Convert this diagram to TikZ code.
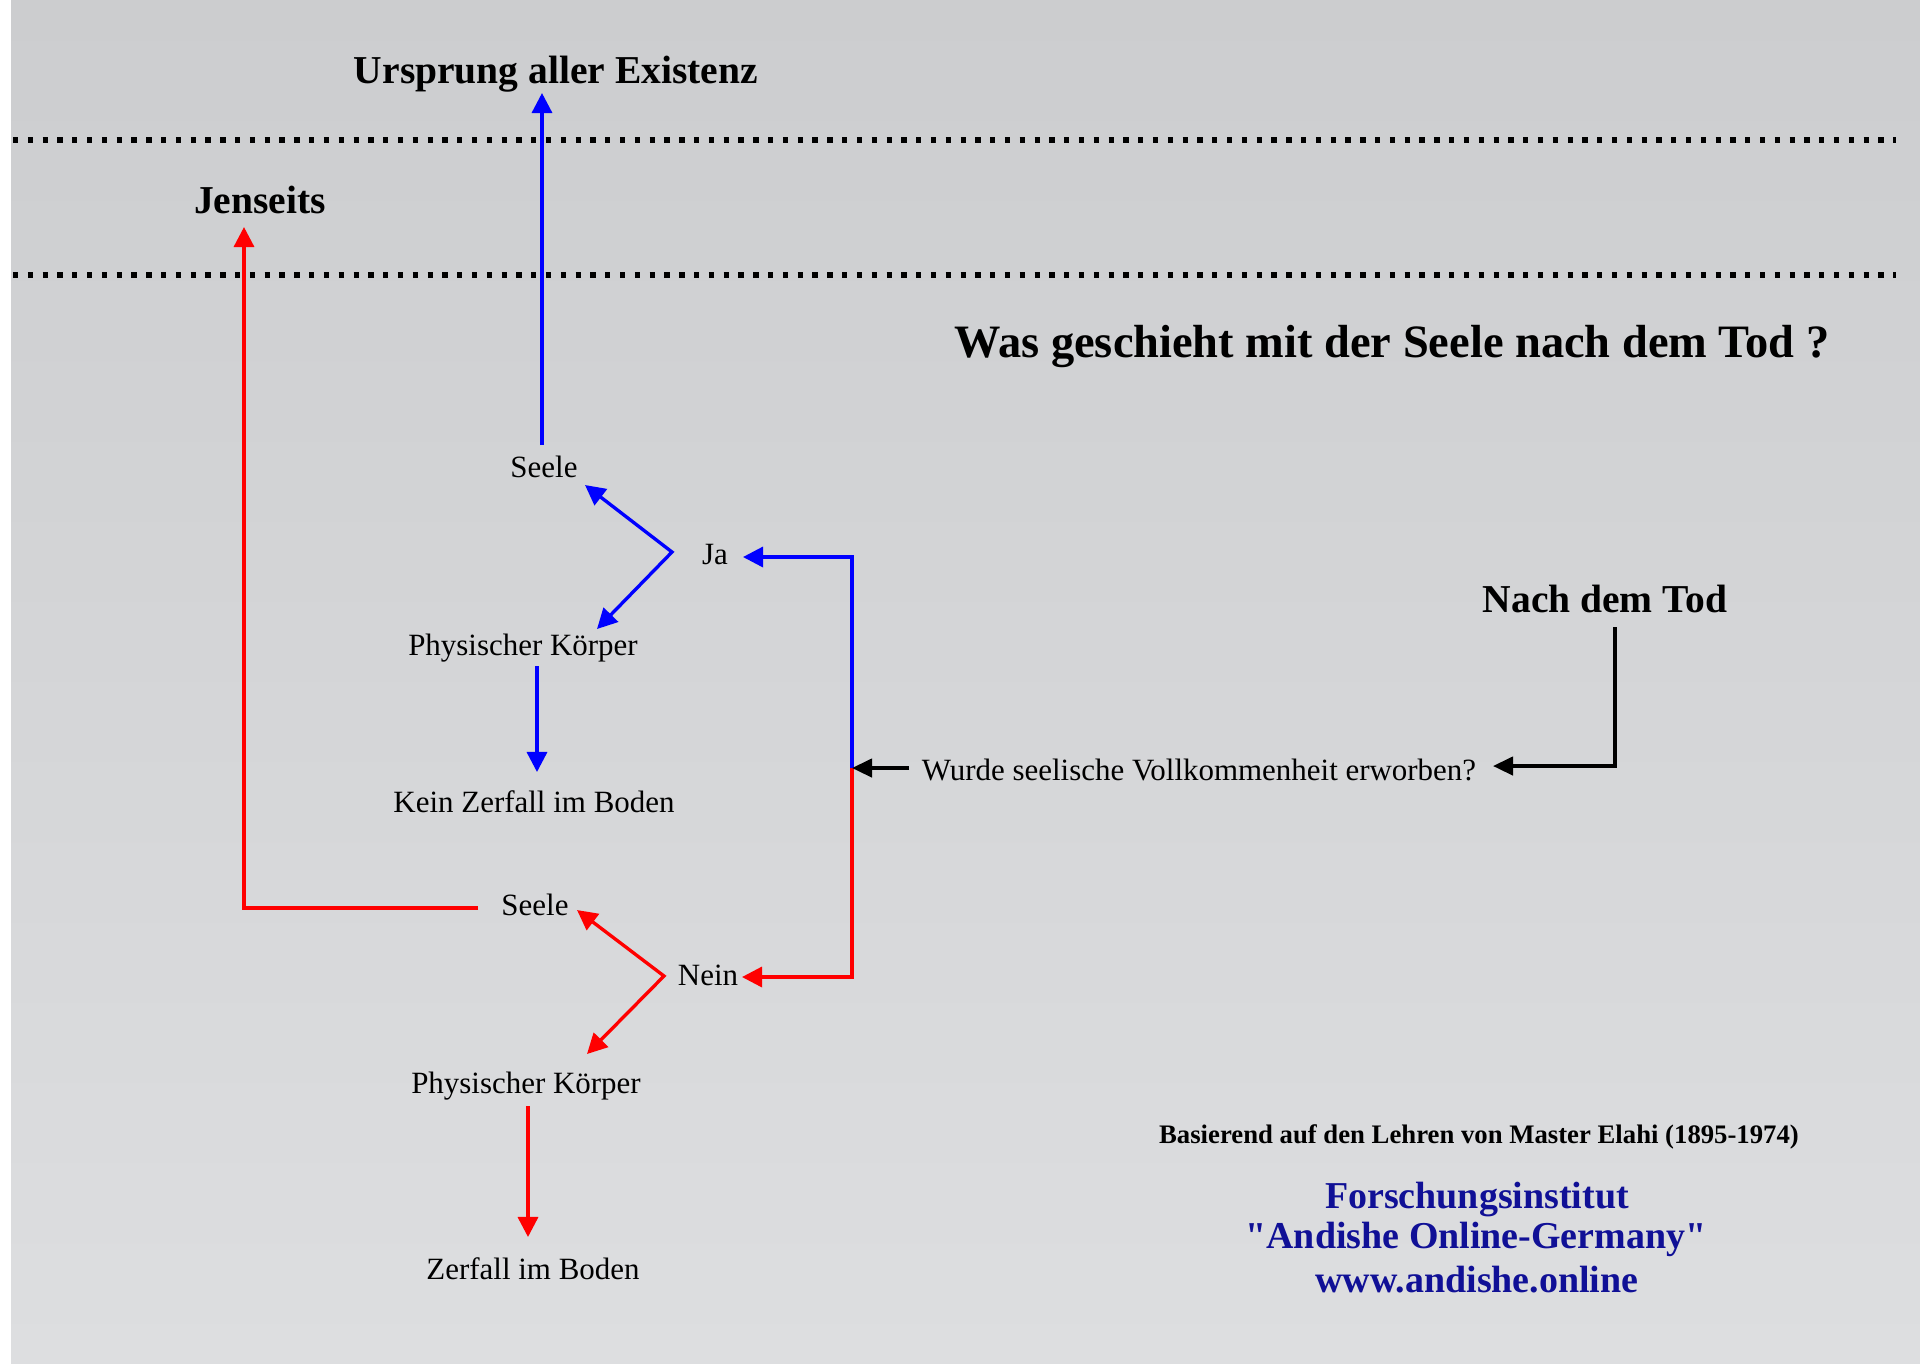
\documentclass[tikz,border=0pt]{standalone}
\usepackage{fontspec}
\setmainfont{Liberation Serif}
\newfontfamily\rawserif{Liberation Serif}
\usetikzlibrary{calc,arrows.meta}
\definecolor{bgtop}{RGB}{204,205,207}
\definecolor{bgbot}{RGB}{221,222,224}
\definecolor{andblue}{RGB}{16,16,150}
\tikzset{
  bigtxt/.style={font=\fontsize{11.24}{13}\selectfont\bfseries, anchor=base, inner sep=0pt},
  titletxt/.style={font=\fontsize{13.2}{15}\selectfont\bfseries, anchor=base, inner sep=0pt},
  lab/.style={font=\fontsize{8.8}{10}\selectfont, anchor=base, inner sep=0pt},
  smallbold/.style={font=\fontsize{7.6}{9}\selectfont\bfseries, anchor=base, inner sep=0pt},
  bluetxt/.style={font=\fontsize{10.8}{12}\selectfont\bfseries, text=andblue, anchor=base, inner sep=0pt},
  barrow/.style={draw=blue, line width=0.95pt, line join=miter, -{Triangle[length=5.7pt,width=5.7pt]}},
  rarrow/.style={draw=red, line width=0.95pt, line join=miter, -{Triangle[length=5.7pt,width=5.7pt]}},
  karrow/.style={draw=black, line width=1pt, line join=miter, -{Triangle[length=5.7pt,width=5.2pt]}},
  dotline/.style={draw=black, line width=1.5pt, dash pattern=on 1.5pt off 2.71pt},
}
\begin{document}
\begin{tikzpicture}[x=0.01cm, y=-0.01cm]
\useasboundingbox (0,0) rectangle (1920,1365);
\fill[white] (0,0) rectangle (1920,1365);
\shade[top color=bgtop, bottom color=bgbot] (11,0) rectangle (1920,1363);

% dotted separators
\coordinate (d1a) at (13,140);
\coordinate (d1b) at (1896,140);
\coordinate (d2a) at (13,275);
\coordinate (d2b) at (1896,275);
\draw[dotline] (d1a) -- (d1b);
\draw[dotline] (d2a) -- (d2b);

% headings
\node[bigtxt] (urs) at (556,83) {Ursprung aller Existenz};
\node[bigtxt] (jen) at (260,213) {Jenseits};
\node[titletxt] (title) at (1392,357) {Was geschieht mit der Seele nach dem Tod ?};
\node[bigtxt] (nach) at (1605,612) {Nach dem Tod};
\node[lab] (frage) at (1199,780) {Wurde seelische Vollkommenheit erworben?};

% upper (Ja) branch
\node[lab] (s1) at (544,477) {Seele};
\node[lab] (ja) at (715,564) {Ja};
\node[lab] (p1) at (523,655) {Physischer Körper};
\node[lab] (k1) at (534,812) {Kein Zerfall im Boden};

% lower (Nein) branch
\node[lab] (s2) at (535,915) {Seele};
\node[lab] (nein) at (708,985) {Nein};
\node[lab] (p2) at (526,1093) {Physischer Körper};
\node[lab] (z2) at (533,1279) {Zerfall im Boden};

% footer
\node[smallbold] (bas) at (1479,1143) {Basierend auf den Lehren von Master Elahi (1895-1974)};
\node[bluetxt] (f1) at (1477,1208) {Forschungsinstitut};
\node[bluetxt] (f2) at (1476,1248) {\rawserif\bfseries "Andishe Online-Germany"};
\node[bluetxt] (f3) at (1477,1292) {www.andishe.online};

% junctions
\coordinate (jb) at (852,768);
\coordinate (jaV) at ($(ja.base)+(-43,-12)$);
\coordinate (neinV) at ($(nein.base)+(-44,-9)$);

% connectors
\draw[barrow] ($(s1.base)+(-2,-32)$) -- ($(urs.base)+(-14,10)$);
\draw[barrow] (jb) |- ($(ja.base)+(28,-7)$);
\draw[rarrow] (jb) |- ($(nein.base)+(34,-8)$);
\draw[draw=blue, line width=0.95pt, line join=miter, {Triangle[length=5.7pt,width=5.7pt]}-{Triangle[length=5.7pt,width=5.7pt]}]
  ($(s1.base)+(41,8)$) -- (jaV) -- ($(p1.base)+(74,-26)$);
\draw[barrow] ($(p1.base)+(14,11)$) -- ($(k1.base)+(3,-40)$);
\draw[draw=red, line width=0.95pt, line join=miter, {Triangle[length=5.7pt,width=5.7pt]}-{Triangle[length=5.7pt,width=5.7pt]}]
  ($(s2.base)+(42,-5)$) -- (neinV) -- ($(p2.base)+(61,-39)$);
\draw[rarrow] ($(p2.base)+(2,13)$) -- ($(z2.base)+(-5,-42)$);
\draw[rarrow] ($(s2.base)+(-57,-7)$) -| ($(jen.base)+(-16,14)$);
\draw[karrow] ($(frage.base)+(-290,-12)$) -- (jb);
\draw[karrow] ($(nach.base)+(10,15)$) |- ($(frage.base)+(294,-14)$);
\end{tikzpicture}
\end{document}
